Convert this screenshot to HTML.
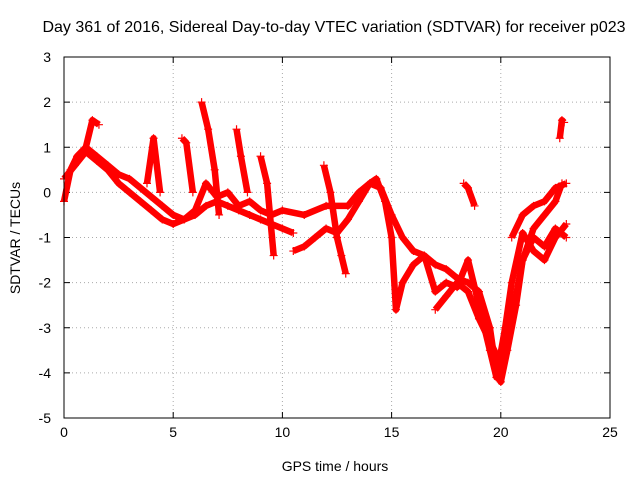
<!DOCTYPE html>
<html><head><meta charset="utf-8"><style>
body{margin:0;background:#fff;width:640px;height:480px;overflow:hidden}
svg{display:block;font-family:"Liberation Sans",sans-serif}
</style></head><body>
<svg id="chart" width="640" height="480">
<text x="334" y="32" font-size="16" text-anchor="middle">Day 361 of 2016, Sidereal Day-to-day VTEC variation (SDTVAR) for receiver p023</text>
<text x="335" y="471" font-size="14" text-anchor="middle">GPS time / hours</text>
<text x="20" y="238" font-size="14" text-anchor="middle" transform="rotate(-90 20 238)">SDTVAR / TECUs</text>
<g id="grid"></g><g id="marks"></g>
<rect x="64" y="57" width="546" height="361" fill="none" stroke="#000"/>
</svg>
<script>
const xTicks=[0,5,10,15,20,25];
const yTicks=[3,2,1,0,-1,-2,-3,-4,-5];
const seriesA_t=[0,0.3,0.6,1,1.5,2,2.5,3,3.5,4,4.5,5,5.5,6,6.5,7,7.5,8,8.5,9,9.5,10,10.5];
const seriesA_v=[-0.2,0.5,0.8,1.0,0.8,0.6,0.4,0.3,0.1,-0.1,-0.3,-0.5,-0.6,-0.5,-0.3,-0.2,-0.3,-0.4,-0.5,-0.6,-0.7,-0.8,-0.9];
const seriesB_t=[0,0.5,1,1.5,2,2.5,3,3.5,4,4.5,5,5.5,6,6.5,7,7.5,8,8.5,9,9.5,10,11,12,13,13.5,14,14.5,15,15.5,16,16.5,17,17.5,18,18.5,19,19.5,19.8,20,20.3,20.7,21,21.5,22,22.5,22.8];
const seriesB_v=[0.3,0.6,0.9,0.7,0.5,0.2,0,-0.2,-0.4,-0.6,-0.7,-0.6,-0.4,0.2,-0.1,0,-0.3,-0.2,-0.4,-0.5,-0.4,-0.5,-0.3,-0.3,0,0.2,0.1,-0.5,-1.0,-1.3,-1.4,-1.6,-1.7,-1.9,-2.0,-2.2,-3.0,-4.0,-4.2,-3.5,-2.5,-1.5,-0.8,-0.5,-0.2,0.2];
const seriesC_t=[10.5,11,11.5,12,12.5,13,13.5,14,14.3,14.7,15,15.2,15.5,16,16.5,17,17.5,18,18.5,19,19.5,19.8,20.2,20.5,21,21.5,22,22.5,23];
const seriesC_v=[-1.3,-1.2,-1.0,-0.8,-0.9,-0.6,-0.2,0.2,0.3,-0.2,-1.0,-2.6,-2.0,-1.6,-1.4,-2.2,-2.0,-2.1,-1.5,-2.5,-3.5,-4.1,-3.0,-2.0,-0.9,-1.3,-1.5,-1.0,-0.7];
const seriesD_t=[17,17.5,18,18.5,19,19.5,20,20.5,21,21.5,22,22.5,23];
const seriesD_v=[-2.6,-2.3,-2.0,-2.2,-2.8,-3.3,-3.8,-2.8,-1.5,-1.0,-1.2,-0.8,-1.0];
const seriesE_t=[20.5,21,21.5,22,22.5,23];
const seriesE_v=[-1.0,-0.5,-0.3,-0.2,0.1,0.2];
const spikes_t=[[1,1.3,1.6],[3.8,4.1,4.4],[5.4,5.6,5.9],[6.3,6.6,6.9,7.1],[7.9,8.1,8.4],[9,9.3,9.6],[11.9,12.2,12.5],[12.5,12.7,12.9],[18.3,18.5,18.8],[22.7,22.8,22.9]];
const spikes_v=[[1.0,1.6,1.5],[0.2,1.2,0],[1.2,1.1,0],[2.0,1.4,0.5,-0.5],[1.4,0.8,0],[0.8,0.2,-1.4],[0.6,0,-1.0],[-1.0,-1.4,-1.8],[0.2,0.1,-0.3],[1.2,1.6,1.55]];
const X=t=>64+t*(546/25), Y=v=>57+(3-v)*(361/8);
const NS="http://www.w3.org/2000/svg";
const grid=document.getElementById('grid'), marks=document.getElementById('marks');
function mk(tag,attrs,parent){const e=document.createElementNS(NS,tag);for(const k in attrs)e.setAttribute(k,attrs[k]);parent.appendChild(e);return e;}
xTicks.forEach((t,i)=>{
 if(i>0&&i<xTicks.length-1){const g=mk('line',{x1:X(t),x2:X(t),y1:57,y2:418,stroke:'#aaa','stroke-dasharray':'1,3'},grid);
 
 }
 const tx=mk('text',{x:X(t),y:437,'font-size':14,'text-anchor':'middle'},grid);tx.textContent=t;
 
 
 mk('line',{x1:X(t),x2:X(t),y1:418,y2:412,stroke:'#000'},grid);mk('line',{x1:X(t),x2:X(t),y1:57,y2:63,stroke:'#000'},grid);
});
yTicks.forEach((v,i)=>{
 if(i>0&&i<yTicks.length-1){const g=mk('line',{x1:64,x2:610,y1:Y(v),y2:Y(v),stroke:'#aaa','stroke-dasharray':'1,3'},grid);
 
 }
 const tx=mk('text',{x:51,y:Y(v)+5,'font-size':14,'text-anchor':'end'},grid);tx.textContent=v;
 
 
 mk('line',{x1:64,x2:70,y1:Y(v),y2:Y(v),stroke:'#000'},grid);mk('line',{x1:604,x2:610,y1:Y(v),y2:Y(v),stroke:'#000'},grid);
});
function draw(ts,vs,name){
 const d=ts.map((t,i)=>(i?'L':'M')+X(t)+','+Y(vs[i])).join('');
 const p=mk('path',{d:d,fill:'none',stroke:'#f00','stroke-width':6.5,'stroke-linejoin':'round'},marks);
 
 
 ts.forEach((t,i)=>{const x=X(t),y=Y(vs[i]);
  const m=mk('path',{d:`M${x-4},${y}h8M${x},${y-4}v8`,stroke:'#f00','stroke-width':1.2},marks);
  
  });
}
draw(seriesA_t,seriesA_v,'series-a');
draw(seriesB_t,seriesB_v,'series-b');
draw(seriesC_t,seriesC_v,'series-c');
draw(seriesD_t,seriesD_v,'series-d');
draw(seriesE_t,seriesE_v,'series-e');
spikes_t.forEach((ts,i)=>draw(ts,spikes_v[i],'spike-series'));
</script>
</body></html>
